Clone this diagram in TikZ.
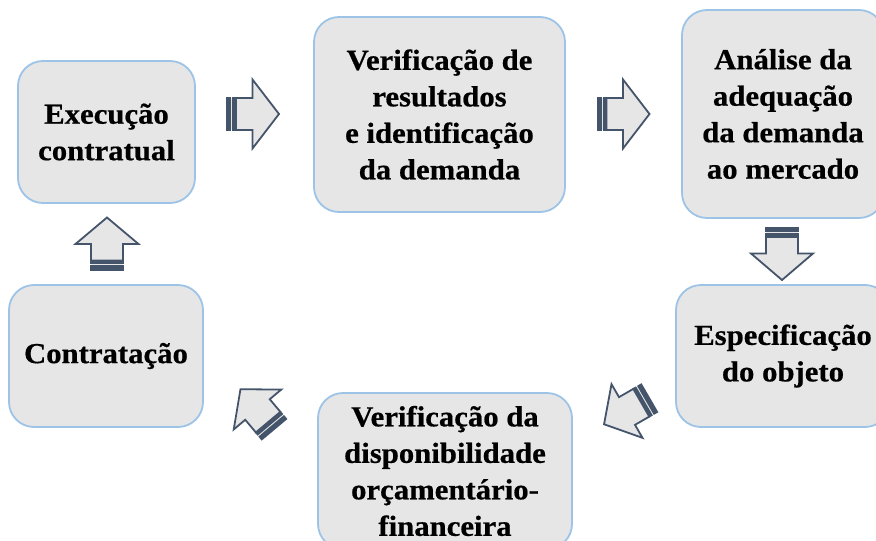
\documentclass[tikz,border=0pt]{standalone}
\usepackage{fontspec}
\setmainfont{Liberation Serif}[FakeStretch=1.06, FakeBold=0.6]
\definecolor{boxfill}{HTML}{E6E6E6}
\definecolor{boxline}{HTML}{9DC3E6}
\definecolor{arrline}{HTML}{44546A}
\definecolor{arrfill}{HTML}{E7E6E6}
\tikzset{
  stage/.style={draw=boxline, line width=1.8pt, fill=boxfill, rounded corners=25pt,
    align=center, inner sep=0pt, font=\fontsize{29}{36.5}\selectfont\bfseries, text=black},
  pics/striped/.style={code={
    \fill[arrfill] (-26.5,-16) rectangle (-16,16);
    \fill[arrline] (-26.5,-16.8) rectangle (-21.3,16.8);
    \fill[arrline] (-20.1,-16.8) rectangle (-16,16.8);
    \draw[arrline, fill=arrfill, line width=1.8pt, line join=miter]
      (-16.5,-16) -- (0,-16) -- (0,-#1) -- (26.5,0) -- (0,#1) -- (0,16) -- (-16.5,16) -- cycle;
  }}
}
\begin{document}
\begin{tikzpicture}[x=1pt, y=-1pt]
\useasboundingbox (0,0) rectangle (876,541);
\clip (0,0) rectangle (876,541);
\node[stage, minimum width=177pt, minimum height=142pt] (exec) at (106.5,132) {Execução\\contratual};
\node[stage, minimum width=251pt, minimum height=195pt] (verif) at (439.5,114.5) {Verificação de\\resultados\\e identificação\\da demanda};
\node[stage, minimum width=202pt, minimum height=208pt] (anal) at (783,114) {Análise da\\adequação\\da demanda\\ao mercado};
\node[stage, minimum width=214pt, minimum height=142pt] (espec) at (783,356) {Especificação\\do objeto};
\node[stage, minimum width=254pt, minimum height=156pt] (disp) at (445,471) {Verificação da\\disponibilidade\\orçamentário-\\financeira};
\node[stage, minimum width=194pt, minimum height=142pt] (contr) at (106,356) {Contratação};
\pic at (252.5,114) {striped=34.5};
\pic at (623,114) {striped=34.5};
\pic[rotate=-90] at (782,253.5) {striped=31};
\pic[rotate=210] at (627,411) {striped=31};
\pic[rotate=130] at (257.5,409.5) {striped=31};
\pic[rotate=90] at (107,244) {striped=31.5};
\end{tikzpicture}
\end{document}
